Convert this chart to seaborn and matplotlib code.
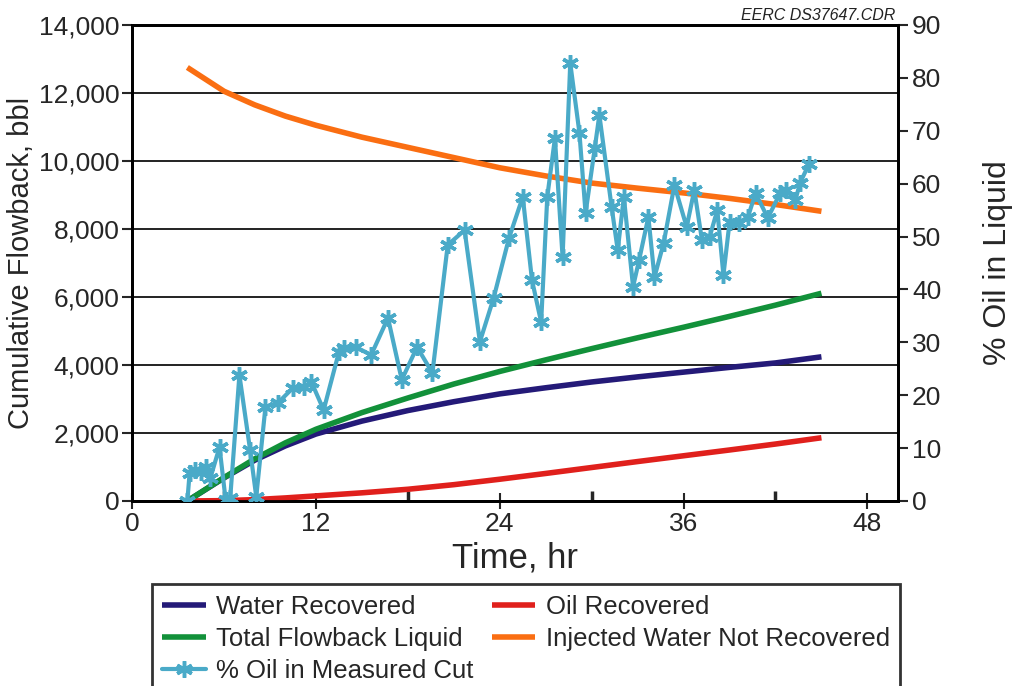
import numpy as np
import pandas as pd
import matplotlib
matplotlib.use("Agg")
import matplotlib.pyplot as plt
import seaborn as sns

# ── Data ───────────────────────────────────────────────────────────────────────
hours = [3.6, 6, 8, 10, 12, 15, 18, 21, 24, 27, 30, 33, 36, 39, 42, 45]
water_recovered = [0, 680, 1200, 1620, 1970, 2350, 2660, 2920, 3150, 3330,
                   3500, 3650, 3790, 3930, 4060, 4240]
oil_recovered = [0, 10, 40, 90, 150, 240, 345, 480, 640, 810,
                 985, 1160, 1330, 1500, 1675, 1860]
total_flowback = [0, 690, 1240, 1710, 2110, 2600, 3030, 3440, 3810, 4150,
                  4480, 4800, 5110, 5430, 5760, 6110]
injected_not_recovered = [12750, 12050, 11650, 11320, 11050, 10700, 10400, 10100,
                          9800, 9560, 9350, 9200, 9060, 8900, 8720, 8520]

cut_hours = [3.6, 3.75, 4.1, 4.5, 4.8, 5.1, 5.7, 6.1, 6.4, 7.0, 7.7, 8.1, 8.7,
             9.5, 10.5, 11.2, 11.7, 12.5, 13.5, 13.8, 14.6, 15.6, 16.7, 17.6,
             18.6, 19.6, 20.6, 21.7, 22.7, 23.6, 24.6, 25.5, 26.1, 26.7, 27.1,
             27.6, 28.1, 28.6, 29.2, 29.6, 30.2, 30.5, 31.3, 31.7, 32.1, 32.7,
             33.1, 33.7, 34.1, 34.7, 35.4, 36.2, 36.7, 37.2, 37.7, 38.2, 38.6,
             39.0, 39.6, 40.2, 40.7, 41.5, 42.3, 42.7, 43.3, 43.6, 44.2]
oil_cut_pct = [0, 5.3, 5.9, 5.5, 6.4, 4.3, 10.2, 0.2, 0.6, 23.8, 9.6, 0.8, 17.8,
               18.5, 21.4, 21.6, 22.5, 17.2, 28.2, 28.9, 29.1, 27.6, 34.6, 22.9,
               29.1, 24.2, 48.4, 51.2, 30.1, 38.4, 49.7, 57.5, 41.8, 33.8, 57.5,
               68.6, 46.1, 82.8, 69.6, 54.4, 66.7, 73.0, 55.6, 47.4, 57.5, 40.5,
               45.6, 53.7, 42.3, 48.8, 59.7, 51.8, 58.8, 49.3, 49.9, 55.0, 42.7,
               52.7, 52.6, 53.7, 58.2, 53.5, 58.2, 58.8, 56.9, 60.1, 63.8]

x_ticks = [0, 12, 24, 36, 48]
x_minor = [6, 18, 30, 42]
y_ticks = list(range(0, 14001, 2000))
y2_ticks = list(range(0, 91, 10))

# ── Style ──────────────────────────────────────────────────────────────────────
sns.set_style("white")
plt.rcParams["font.family"] = ["Liberation Sans", "DejaVu Sans"]

C_WATER = "#241a78"
C_OIL = "#e0201c"
C_TOTAL = "#12913a"
C_INJ = "#fa6e12"
C_CUT = "#4aaac8"

fig = plt.figure(figsize=(10.13, 6.86), dpi=100)
ax = fig.add_axes([0.1305, 0.2697, 0.756, 0.6939])
ax2 = ax.twinx()

curves = pd.DataFrame({
    "hr": hours,
    "Water Recovered": water_recovered,
    "Oil Recovered": oil_recovered,
    "Total Flowback Liquid": total_flowback,
    "Injected Water Not Recovered": injected_not_recovered,
})
cut = pd.DataFrame({"hr": cut_hours, "pct": oil_cut_pct})

for ax_ in (ax, ax2):
    ax_.set_facecolor("none")

for col, color in [("Water Recovered", C_WATER), ("Oil Recovered", C_OIL),
                   ("Total Flowback Liquid", C_TOTAL),
                   ("Injected Water Not Recovered", C_INJ)]:
    sns.lineplot(data=curves, x="hr", y=col, ax=ax, color=color, lw=4,
                 label=col, estimator=None, legend=False, zorder=3,
                 solid_capstyle="butt")

sns.lineplot(data=cut, x="hr", y="pct", ax=ax2, color=C_CUT, lw=3,
             marker=(6, 2, 0), markersize=12, markeredgewidth=2.5,
             markeredgecolor=C_CUT, label="% Oil in Measured Cut",
             estimator=None, sort=False, legend=False, zorder=4)

# ── Axes ───────────────────────────────────────────────────────────────────────
ax.set_xlim(0, 50)
ax.set_ylim(0, 14000)
ax2.set_ylim(0, 90)
ax.set_xticks(x_ticks)
ax.set_xticks(x_minor, minor=True)
ax.set_yticks(y_ticks)
ax.set_yticklabels([f"{v:,}" for v in y_ticks])
ax2.set_yticks(y2_ticks)
ax.grid(axis="y", color="#222222", lw=1.4)
ax.set_axisbelow(True)

ax.tick_params(axis="x", which="major", direction="inout", length=12, width=1.5,
               labelsize=19, pad=2, bottom=True)
ax.tick_params(axis="x", which="minor", direction="in", length=7, width=2.5,
               bottom=True)
ax.tick_params(axis="y", direction="out", length=7, width=1.5, labelsize=19,
               left=True, pad=2)
ax2.tick_params(axis="y", direction="out", length=7, width=1.5, labelsize=19,
                right=True, pad=3)

for ax_ in (ax, ax2):
    for sp in ax_.spines.values():
        sp.set_color("black")
        sp.set_linewidth(2)

ax.set_xlabel("Time, hr", fontsize=25, labelpad=4)
ax.set_ylabel("Cumulative Flowback, bbl", fontsize=21, labelpad=3)
ax2.set_ylabel("% Oil in Liquid", fontsize=23, labelpad=30)

fig.text(0.884, 0.967, "EERC DS37647.CDR", ha="right", va="bottom",
         fontsize=11.5, style="italic", color="#222222")

# ── Legend ─────────────────────────────────────────────────────────────────────
h1, l1 = ax.get_legend_handles_labels()
h2, l2 = ax2.get_legend_handles_labels()
handles = dict(zip(l1 + l2, h1 + h2))
order = ["Water Recovered", "Total Flowback Liquid", "% Oil in Measured Cut",
         "Oil Recovered", "Injected Water Not Recovered"]
leg = fig.legend([handles[k] for k in order], order, ncol=2, loc="upper left",
                 bbox_to_anchor=(0.150, 0.148), borderaxespad=0, fontsize=18.5,
                 frameon=True, fancybox=False, edgecolor="black",
                 handlelength=1.7, handletextpad=0.4, columnspacing=0.7,
                 labelspacing=0.32, borderpad=0.4)
leg.get_frame().set_linewidth(2)

fig.savefig("out.png", dpi=100)
